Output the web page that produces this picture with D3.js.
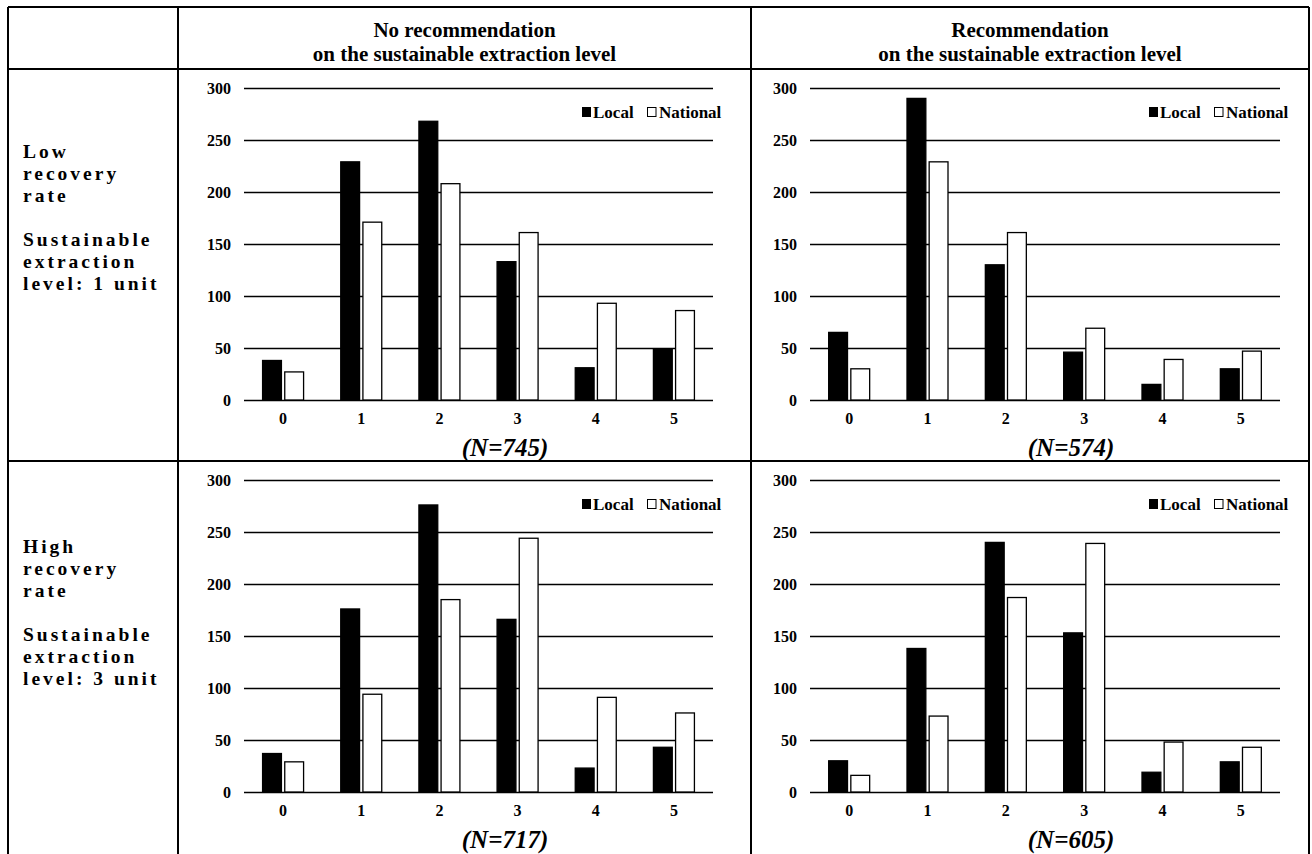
<!doctype html>
<html lang="en">
 <head>
   <meta charset="UTF-8">
   <title>Extraction choices</title>
   <script src="https://d3js.org/d3.v7.min.js"></script>
   <style>
     body { margin: 0; background: #fff; }
     text { font-family: "Liberation Serif", "Times New Roman", "DejaVu Serif", serif; font-weight: bold; fill: #000; }
   </style>
 </head>
 <body>
   <div id="myDiv"></div>

 <script type="text/javascript">
   // categories on the x axis and the two series
   const categories = ["0", "1", "2", "3", "4", "5"];
   const seriesNames = ["Local", "National"];
   const yTicks = [0, 50, 100, 150, 200, 250, 300];

   // low recovery rate
   const lowNoRecLocal = [38, 229, 268, 133, 31, 49];
   const lowNoRecNational = [27, 171, 208, 161, 93, 86];
   const lowRecLocal = [65, 290, 130, 46, 15, 30];
   const lowRecNational = [30, 229, 161, 69, 39, 47];
   // high recovery rate
   const highNoRecLocal = [37, 176, 276, 166, 23, 43];
   const highNoRecNational = [29, 94, 185, 244, 91, 76];
   const highRecLocal = [30, 138, 240, 153, 19, 29];
   const highRecNational = [16, 73, 187, 239, 48, 43];

   const sampleLabels = ["(N=745)", "(N=574)", "(N=717)", "(N=605)"];
   const colHeaders = [
     ["No recommendation", "on the sustainable extraction level"],
     ["Recommendation", "on the sustainable extraction level"]
   ];
   const rowHeaders = [
     ["Low", "recovery", "rate", "", "Sustainable", "extraction", "level: 1 unit"],
     ["High", "recovery", "rate", "", "Sustainable", "extraction", "level: 3 unit"]
   ];

   let svg = d3.select("#myDiv").append("svg")
      .attr("width", 1312)
      .attr("height", 854);

   svg.append("rect").attr("width", 1312).attr("height", 854).attr("fill", "#fff");

   // table grid
   let colX = [8, 178, 751, 1309];
   let rowY = [7, 69, 461];
   let grid = svg.append("g").attr("stroke", "#000").attr("stroke-width", 2);
   colX.forEach(function(x) {
     grid.append("line").attr("x1", x).attr("x2", x).attr("y1", rowY[0]).attr("y2", 854);
   });
   rowY.forEach(function(y) {
     grid.append("line").attr("x1", colX[0]).attr("x2", colX[3]).attr("y1", y).attr("y2", y);
   });

   // column headers
   colHeaders.forEach(function(lines, c) {
     let cx = (colX[c + 1] + colX[c + 2]) / 2;
     svg.append("g").selectAll("text")
       .data(lines)
       .enter()
       .append("text")
         .attr("x", cx)
         .attr("y", function(d, i) { return 37 + i * 24; })
         .attr("text-anchor", "middle")
         .attr("font-size", "21px")
         .text(function(d) { return d; });
   });

   // row headers
   rowHeaders.forEach(function(lines, r) {
     let top = r == 0 ? 151 : 546;
     svg.append("g").selectAll("text")
       .data(lines.filter(function(d) { return d != ""; }).map(function(d) { return { t: d, i: lines.indexOf(d) }; }))
       .enter()
       .append("text")
         .attr("x", 23)
         .attr("y", function(d) { return top + d.i * 22; })
         .attr("dominant-baseline", "central")
         .attr("font-size", "19.5px")
         .attr("letter-spacing", "3px")
         .text(function(d) { return d.t; });
   });

   let panels = [
     { local: lowNoRecLocal, national: lowNoRecNational, n: sampleLabels[0], x0: 244, x1: 713, top: 88, bottom: 400 },
     { local: lowRecLocal, national: lowRecNational, n: sampleLabels[1], x0: 810, x1: 1280, top: 88, bottom: 400 },
     { local: highNoRecLocal, national: highNoRecNational, n: sampleLabels[2], x0: 244, x1: 713, top: 480, bottom: 792 },
     { local: highRecLocal, national: highRecNational, n: sampleLabels[3], x0: 810, x1: 1280, top: 480, bottom: 792 }
   ];

   panels.forEach(function(p) {
     let g = svg.append("g");
     let x = d3.scaleBand().domain(categories).range([p.x0, p.x1]).padding(0);
     let bw = x.bandwidth();
     let xs = d3.scaleBand().domain(seriesNames).range([bw / 2 - 20.5, bw / 2 + 20.5]).paddingInner(0.15);
     let y = d3.scaleLinear().domain([0, 300]).range([p.bottom, p.top]);

     // gridlines + y labels
     let yAxis = g.append("g")
        .attr("transform", "translate(" + p.x0 + ",0)")
        .call(d3.axisLeft(y).tickValues(yTicks).tickSize(-(p.x1 - p.x0)).tickPadding(13));
     yAxis.select(".domain").remove();
     yAxis.selectAll("line").attr("stroke", "#000").attr("stroke-width", 1.5);
     yAxis.selectAll("text")
        .attr("font-size", "16px")
        .attr("fill", "#000");

     // x labels
     let xAxis = g.append("g")
        .attr("transform", "translate(0," + p.bottom + ")")
        .call(d3.axisBottom(x).tickSize(0).tickPadding(13));
     xAxis.select(".domain").remove();
     xAxis.selectAll("text")
        .attr("font-size", "16px")
        .attr("fill", "#000");

     // bars
     let rows = categories.map(function(c, i) {
       return { cat: c, Local: p.local[i], National: p.national[i] };
     });
     let groups = g.selectAll(".grp")
        .data(rows)
        .enter()
        .append("g")
          .attr("transform", function(d) { return "translate(" + x(d.cat) + ",0)"; });
     groups.selectAll("rect")
        .data(function(d) { return seriesNames.map(function(k) { return { key: k, value: d[k] }; }); })
        .enter()
        .append("rect")
          .attr("x", function(d) { return xs(d.key); })
          .attr("y", function(d) { return y(d.value); })
          .attr("width", xs.bandwidth())
          .attr("height", function(d) { return y(0) - y(d.value); })
          .attr("fill", function(d) { return d.key == "Local" ? "#000" : "#fff"; })
          .attr("stroke", "#000")
          .attr("stroke-width", 1.3);

     // legend
     let ly = p.top + 24;
     let legend = g.append("g");
     legend.append("rect").attr("x", p.x1 - 131).attr("y", ly - 5).attr("width", 9).attr("height", 10)
        .attr("fill", "#000");
     legend.append("text").attr("x", p.x1 - 120).attr("y", ly).attr("dominant-baseline", "central")
        .attr("font-size", "17px").text(seriesNames[0]);
     legend.append("rect").attr("x", p.x1 - 65.5).attr("y", ly - 4.5).attr("width", 8.5).attr("height", 9)
        .attr("fill", "#fff").attr("stroke", "#000").attr("stroke-width", 1);
     legend.append("text").attr("x", p.x1 - 54).attr("y", ly).attr("dominant-baseline", "central")
        .attr("font-size", "17px").text(seriesNames[1]);

     // sample size
     g.append("text")
        .attr("x", p.x0 + 261)
        .attr("y", p.bottom + 47)
        .attr("text-anchor", "middle")
        .attr("dominant-baseline", "central")
        .attr("font-size", "25px")
        .attr("font-style", "italic")
        .text(p.n);
   });
 </script>
</body>
</html>
